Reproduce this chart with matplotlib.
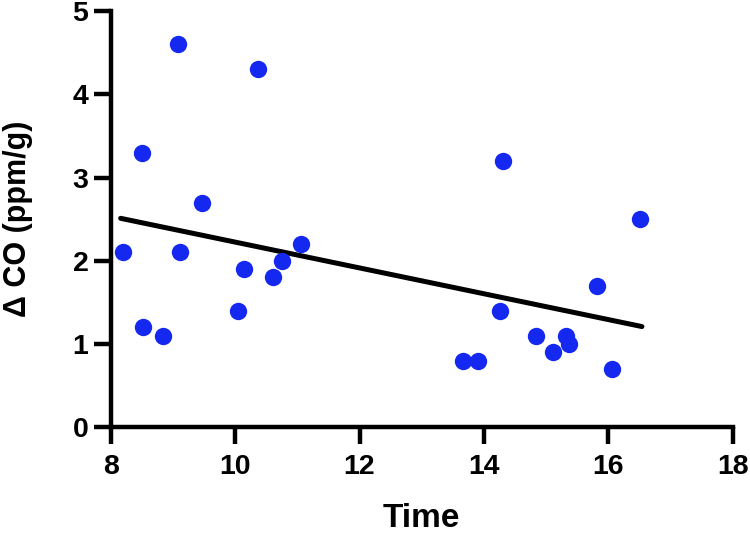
import numpy as np
import matplotlib
matplotlib.use("Agg")
import matplotlib.pyplot as plt

plt.rcParams['font.family'] = ['Liberation Sans', 'DejaVu Sans']
plt.rcParams['font.weight'] = 'bold'

time = [8.19, 8.50, 9.08, 9.12, 9.46, 10.36, 10.15, 10.61, 10.75, 11.06,
        8.52, 8.84, 10.04, 14.31, 16.51, 15.82, 14.26, 14.83, 15.32, 15.36,
        15.11, 13.67, 13.90, 16.06]
delta_co = [2.1, 3.3, 4.6, 2.1, 2.7, 4.3, 1.9, 1.8, 2.0, 2.2,
            1.2, 1.1, 1.4, 3.2, 2.5, 1.7, 1.4, 1.1, 1.1, 1.0,
            0.9, 0.8, 0.8, 0.7]
line_x = [8.16, 16.54]
line_y = [2.51, 1.21]

fig = plt.figure(figsize=(7.5, 5.34), dpi=100)
ax = fig.add_axes([0.1476, 0.1998, 0.8294, 0.7796])

ax.plot(line_x, line_y, color='black', lw=3.6, solid_capstyle='round', zorder=2)
ax.plot(time, delta_co, 'o', color='#1428f0', ms=12.5, mec='none', zorder=3)

ax.set_xlim(8, 18)
ax.set_ylim(0, 5)
ax.set_xticks(np.arange(8, 19, 2))
ax.set_yticks(np.arange(0, 6, 1))
for s in ['top', 'right']:
    ax.spines[s].set_visible(False)
for s in ['left', 'bottom']:
    ax.spines[s].set_linewidth(3.2)
ax.tick_params(width=3.2, length=12, labelsize=20.5)
ax.tick_params(axis='x', pad=7)
ax.tick_params(axis='y', pad=4)
for lab in ax.get_xticklabels() + ax.get_yticklabels():
    lab.set_fontweight('bold')

ax.set_xlabel('Time', fontsize=24, fontweight='bold')
ax.set_ylabel('Δ CO (ppm/g)', fontsize=22, fontweight='bold')
ax.xaxis.set_label_coords(0.5, -0.182)
ax.yaxis.set_label_coords(-0.125, 0.5)

fig.savefig('out.png', dpi=100)
